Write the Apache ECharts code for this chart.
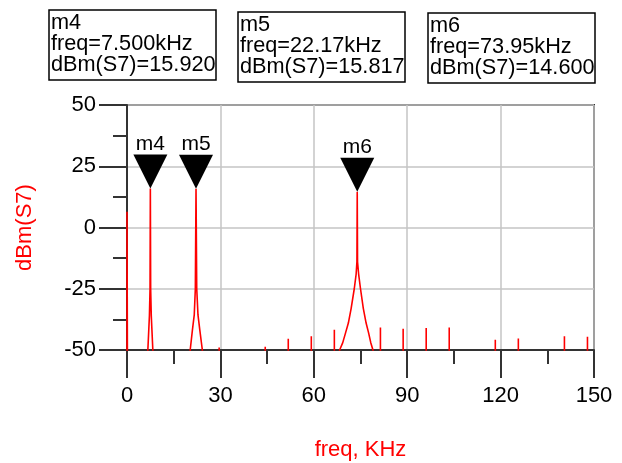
<!DOCTYPE html>
<html><head><meta charset="utf-8">
<script src="https://cdn.jsdelivr.net/npm/echarts@6/dist/echarts.min.js"></script>
<style>html,body{margin:0;padding:0;background:#fff}#c{width:622px;height:463px}</style>
</head><body><div id="c"></div>
<script>
// ---- data ----
const xTicks = [0, 30, 60, 90, 120, 150];
const yTicks = [-50, -25, 0, 25, 50];
const markerNames = ['m4', 'm5', 'm6'];
const markerFreqs = [7.5, 22.17, 73.95];
const markerLevels = [15.92, 15.817, 14.6];
const floorLevel = -60;
const dcLine = [[0, -60], [0, 6.4], [0.15, -60]];
const peakM4 = [[6.5, -60], [6.7, -50], [7.2, -36], [7.4, -25], [7.5, 15.92], [7.6, -25], [7.8, -36], [8.3, -50], [8.5, -60]];
const peakM5 = [[20.0, -60], [20.3, -50], [21.0, -42], [21.6, -35.7], [21.95, -25], [22.17, 15.817], [22.4, -25], [22.8, -35.7], [23.4, -42], [24.2, -50], [24.5, -60]];
const peakM6 = [[67.8, -60], [68.3, -50], [69.3, -47], [70.2, -43], [71.1, -39], [72.0, -33], [73.0, -25], [73.6, -19], [73.85, -14], [73.95, 14.6], [74.05, -14], [74.4, -19], [75.0, -25], [75.9, -33], [76.8, -39], [77.6, -43], [78.3, -47], [79.0, -50], [79.5, -60]];
const spurFreqs = [29.6, 44.4, 51.8, 59.2, 66.6, 81.4, 88.7, 96.1, 103.5, 118.3, 125.7, 140.5, 147.9];
const spurLevels = [-49, -48.7, -45.4, -44.4, -41.7, -40.8, -41.3, -41, -40.8, -45.8, -45.3, -44.4, -44.6];

// ---- build polyline ----
const segments = [dcLine, peakM4, peakM5, peakM6];
spurFreqs.forEach((f, i) => segments.push([[f, floorLevel], [f, spurLevels[i]], [f, floorLevel]]));
segments.sort((a, b) => a[0][0] - b[0][0]);
const spectrum = [].concat(...segments);

const FONT = '"Liberation Sans", Arial, sans-serif';
const boxText = i => markerNames[i] + '\nfreq=' + markerFreqs[i].toPrecision(4) + 'kHz\ndBm(S7)=' + markerLevels[i].toFixed(3);
const mkBox = (i, x, y) => ({
  type: 'group', x: x, y: y,
  children: [
    {type: 'rect', shape: {x: 0, y: 0, width: 167, height: 70}, style: {fill: '#fff', stroke: '#000', lineWidth: 1.5}},
    {type: 'text', x: 2, y: 3, style: {text: boxText(i), fill: '#000', font: '21.7px ' + FONT, lineHeight: 21, verticalAlign: 'top'}}
  ]
});

const axisCommon = {
  type: 'value',
  axisLine: {show: true, onZero: false, lineStyle: {color: '#333', width: 2}},
  axisTick: {show: true, length: 28, lineStyle: {color: '#333', width: 2}},
  minorTick: {show: true, splitNumber: 2, length: 14, lineStyle: {color: '#333', width: 2}},
  splitLine: {show: true, lineStyle: {color: '#c4c4c4', width: 1.5}},
  axisLabel: {color: '#000', fontSize: 22, fontFamily: FONT},
  nameLocation: 'middle',
  nameTextStyle: {color: '#ff0000', fontSize: 22, fontFamily: FONT}
};

const chart = echarts.init(document.getElementById('c'), null, {renderer: 'canvas'});
chart.setOption({
  animation: false,
  backgroundColor: '#fff',
  grid: {left: 127, right: 28, top: 105, bottom: 113, show: true, borderColor: '#333', borderWidth: 2, backgroundColor: 'transparent', containLabel: false, outerBoundsMode: 'none'},
  xAxis: Object.assign({}, axisCommon, {
    min: xTicks[0], max: xTicks[xTicks.length - 1], interval: xTicks[1] - xTicks[0],
    axisLabel: Object.assign({}, axisCommon.axisLabel, {margin: 35}),
    name: 'freq, KHz', nameGap: 89
  }),
  yAxis: Object.assign({}, axisCommon, {
    min: yTicks[0], max: yTicks[yTicks.length - 1], interval: yTicks[1] - yTicks[0],
    axisLabel: Object.assign({}, axisCommon.axisLabel, {margin: 31}),
    name: 'dBm(S7)', nameGap: 91
  }),
  series: [
    {type: 'line', data: spectrum, showSymbol: false, symbol: 'none', lineStyle: {color: '#ff0000', width: 1.6}, z: 3},
    {type: 'scatter', z: 5,
     data: markerNames.map((n, i) => ({name: n, value: [markerFreqs[i], markerLevels[i]]})),
     symbol: 'path://M0,0L2,0L1,2Z', symbolSize: [34, 34], symbolOffset: [0, '-50%'],
     itemStyle: {color: '#000', opacity: 1},
     emphasis: {disabled: true},
     label: {show: true, position: 'top', distance: 0, formatter: '{b}', color: '#000', fontSize: 21, fontFamily: FONT}}
  ],
  graphic: [mkBox(0, 49, 10), mkBox(1, 238, 12), mkBox(2, 428, 13)]
});
</script></body></html>
